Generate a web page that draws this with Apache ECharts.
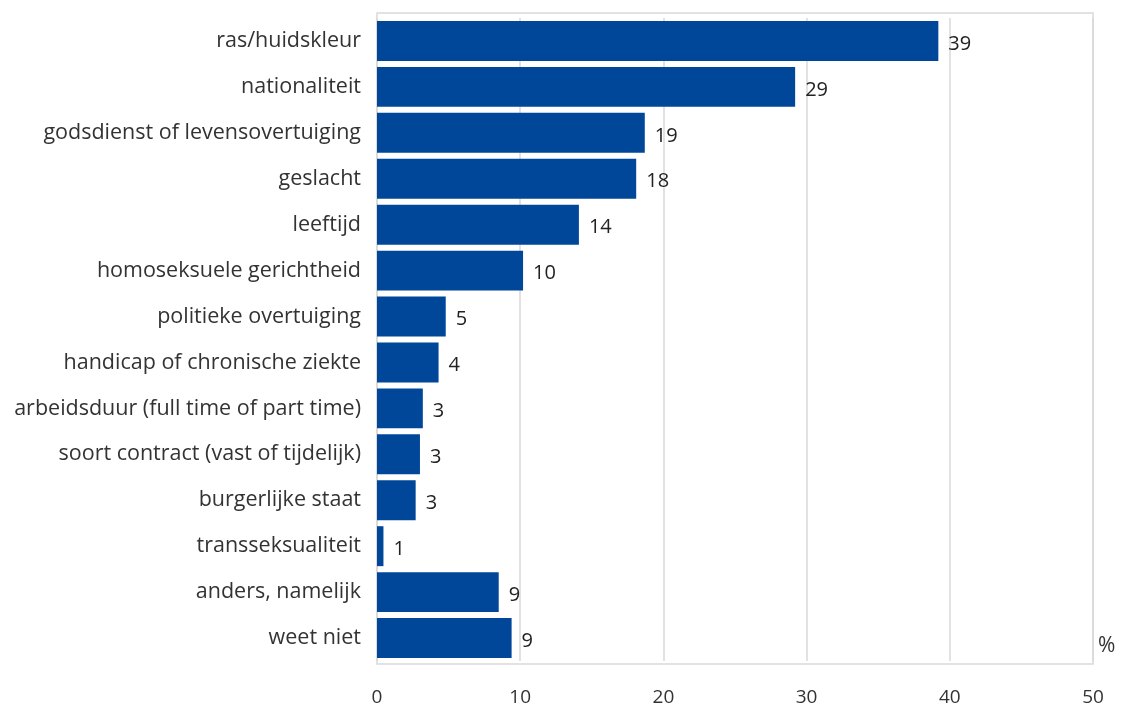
<!DOCTYPE html>
<html><head><meta charset="utf-8">
<script src="https://cdn.jsdelivr.net/npm/echarts@6/dist/echarts.min.js"></script>
<style>html,body{margin:0;padding:0;background:#fff}#c{width:1125px;height:709px}</style>
</head><body><div id="c"></div>
<script>
const categories = ["ras/huidskleur","nationaliteit","godsdienst of levensovertuiging","geslacht","leeftijd","homoseksuele gerichtheid","politieke overtuiging","handicap of chronische ziekte","arbeidsduur (full time of part time)","soort contract (vast of tijdelijk)","burgerlijke staat","transseksualiteit","anders, namelijk","weet niet"];
const values = [39.2, 29.2, 18.7, 18.1, 14.1, 10.2, 4.8, 4.3, 3.2, 3.0, 2.7, 0.45, 8.5, 9.4];
const valueLabels = ["39","29","19","18","14","10","5","4","3","3","3","1","9","9"];
const xTicks = [0,10,20,30,40,50];

const chart = echarts.init(document.getElementById('c'));
chart.setOption({
  animation:false,
  grid:{left:377,right:32,top:18,bottom:48,containLabel:false},
  xAxis:{type:'value',min:0,max:50,interval:10,
    axisLine:{show:false},axisTick:{show:false},
    splitLine:{show:true,lineStyle:{color:'#d9d9d9',width:1.5}},
    axisLabel:{margin:27,fontFamily:'Open Sans',fontSize:19,color:'#333',
      formatter:v=>xTicks.includes(v)?String(v):''}
  },
  yAxis:{type:'category',inverse:true,data:categories,
    axisLine:{show:false},
    axisTick:{show:false},
    axisLabel:{margin:16,fontFamily:'Open Sans',fontSize:21.5,color:'#333'}
  },
  series:[{type:'bar',data:values,barCategoryGap:'13%',
    itemStyle:{color:'#00479A'},
    label:{show:true,position:'right',distance:10,fontFamily:'Open Sans',fontSize:20,color:'#222',
      offset:[0,3],formatter:p=>valueLabels[p.dataIndex]}
  }],
  graphic:[
    {type:'rect',shape:{x:377,y:13,width:716,height:651},style:{fill:'none',stroke:'#d9d9d9',lineWidth:1.5},z:-1},
    {type:'text',left:1098,top:636,style:{text:'%',fontFamily:'Open Sans',fontSize:21,fill:'#333'}}
  ]
});
</script></body></html>
